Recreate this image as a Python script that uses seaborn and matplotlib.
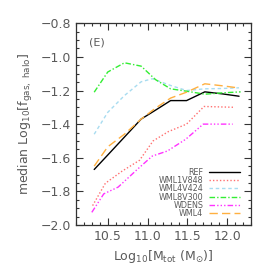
# ---------------------------------------------------
# Median halo gas fraction vs total mass, panel (E)
# ---------------------------------------------------

import pandas as pd
import matplotlib
matplotlib.use("Agg")
import matplotlib.pyplot as plt
from matplotlib.ticker import MultipleLocator
import seaborn as sns

# -----------------------------
# Data
# -----------------------------
x_ref = [10.33, 10.50, 10.71, 10.92, 11.10, 11.29, 11.49, 11.72, 11.94, 12.15]
y_ref = [-1.67, -1.584, -1.477, -1.37, -1.317, -1.26, -1.26, -1.208, -1.22, -1.234]

x_v848 = [10.31, 10.47, 10.68, 10.90, 11.07, 11.26, 11.49, 11.71, 12.10]
y_v848 = [-1.885, -1.752, -1.68, -1.615, -1.50, -1.445, -1.40, -1.295, -1.30]

x_v424 = [10.33, 10.50, 10.71, 10.92, 11.06, 11.29, 11.49, 11.72, 11.94, 12.15]
y_v424 = [-1.46, -1.33, -1.23, -1.148, -1.13, -1.17, -1.20, -1.19, -1.188, -1.184]

x_v300 = [10.33, 10.50, 10.71, 10.92, 11.10, 11.29, 11.49, 11.72, 11.94, 12.17]
y_v300 = [-1.21, -1.09, -1.035, -1.055, -1.135, -1.19, -1.204, -1.222, -1.214, -1.208]

x_wdens = [10.30, 10.45, 10.63, 10.87, 11.06, 11.25, 11.48, 11.70, 12.07]
y_wdens = [-1.925, -1.815, -1.775, -1.67, -1.59, -1.56, -1.49, -1.40, -1.40]

x_wml4 = [10.33, 10.50, 10.71, 10.92, 11.10, 11.29, 11.49, 11.72, 11.94, 12.15]
y_wml4 = [-1.65, -1.535, -1.46, -1.37, -1.305, -1.245, -1.21, -1.16, -1.172, -1.185]

labels = ["REF", "WML1V848", "WML4V424", "WML8V300", "WDENS", "WML4"]
colors = ["black", "#ff7070", "#a8dcf0", "#33ee33", "#ff33ff", "#ffb040"]
dashes = ["", (1, 1.5), (2.5, 2), (4, 1.5, 1, 1.5), (4, 1.5, 1, 1.5, 1, 1.5, 1, 1.5), (6, 3)]

series = [(x_ref, y_ref), (x_v848, y_v848), (x_v424, y_v424),
          (x_v300, y_v300), (x_wdens, y_wdens), (x_wml4, y_wml4)]

frames = []
for lab, (xs, ys) in zip(labels, series):
    frames.append(pd.DataFrame({"logM": xs, "logf": ys, "run": lab}))
df = pd.concat(frames, ignore_index=True)

# -----------------------------
# Plot
# -----------------------------
sns.set_style("ticks")
plt.rcParams["font.family"] = ["DejaVu Sans"]
txt = "#5a5a5a"

fig = plt.figure(figsize=(2.74, 2.74), dpi=100)
ax = fig.add_axes([0.277, 0.179, 0.639, 0.736])

sns.lineplot(data=df, x="logM", y="logf", hue="run", style="run",
             hue_order=labels, style_order=labels,
             palette=dict(zip(labels, colors)),
             dashes=dict(zip(labels, dashes)),
             sort=False, estimator=None, linewidth=1.0, ax=ax)

ax.set_xlim(10.1, 12.3)
ax.set_ylim(-2.0, -0.8)
ax.xaxis.set_major_locator(MultipleLocator(0.5))
ax.xaxis.set_minor_locator(MultipleLocator(0.1))
ax.yaxis.set_major_locator(MultipleLocator(0.2))
ax.yaxis.set_minor_locator(MultipleLocator(0.05))
ax.tick_params(which="both", direction="in", top=True, right=True,
               colors="#333333", labelcolor=txt, labelsize=9, width=0.8)
ax.tick_params(which="major", length=5)
ax.tick_params(which="minor", length=2.5)
for sp in ax.spines.values():
    sp.set_color("#333333")
    sp.set_linewidth(0.9)

ax.set_xlabel(r"Log$_{10}$[M$_{\rm tot}$ (M$_{\odot}$)]", fontsize=9, color=txt)
ax.set_ylabel(r"median Log$_{10}$[f$_{\rm gas,\ halo}$]", fontsize=9, color=txt)
ax.text(0.12, 0.905, "(E)", transform=ax.transAxes, fontsize=8, color=txt,
        ha="center", va="center")

leg = ax.legend(loc="lower right", bbox_to_anchor=(0.935, 0.035),
                frameon=False, markerfirst=False,
                fontsize=5.8, handlelength=3.8, labelspacing=-0.1,
                borderaxespad=0, borderpad=0, handletextpad=0.7)
for t in leg.get_texts():
    t.set_color(txt)

fig.savefig("out.png", dpi=100)
plt.close(fig)
